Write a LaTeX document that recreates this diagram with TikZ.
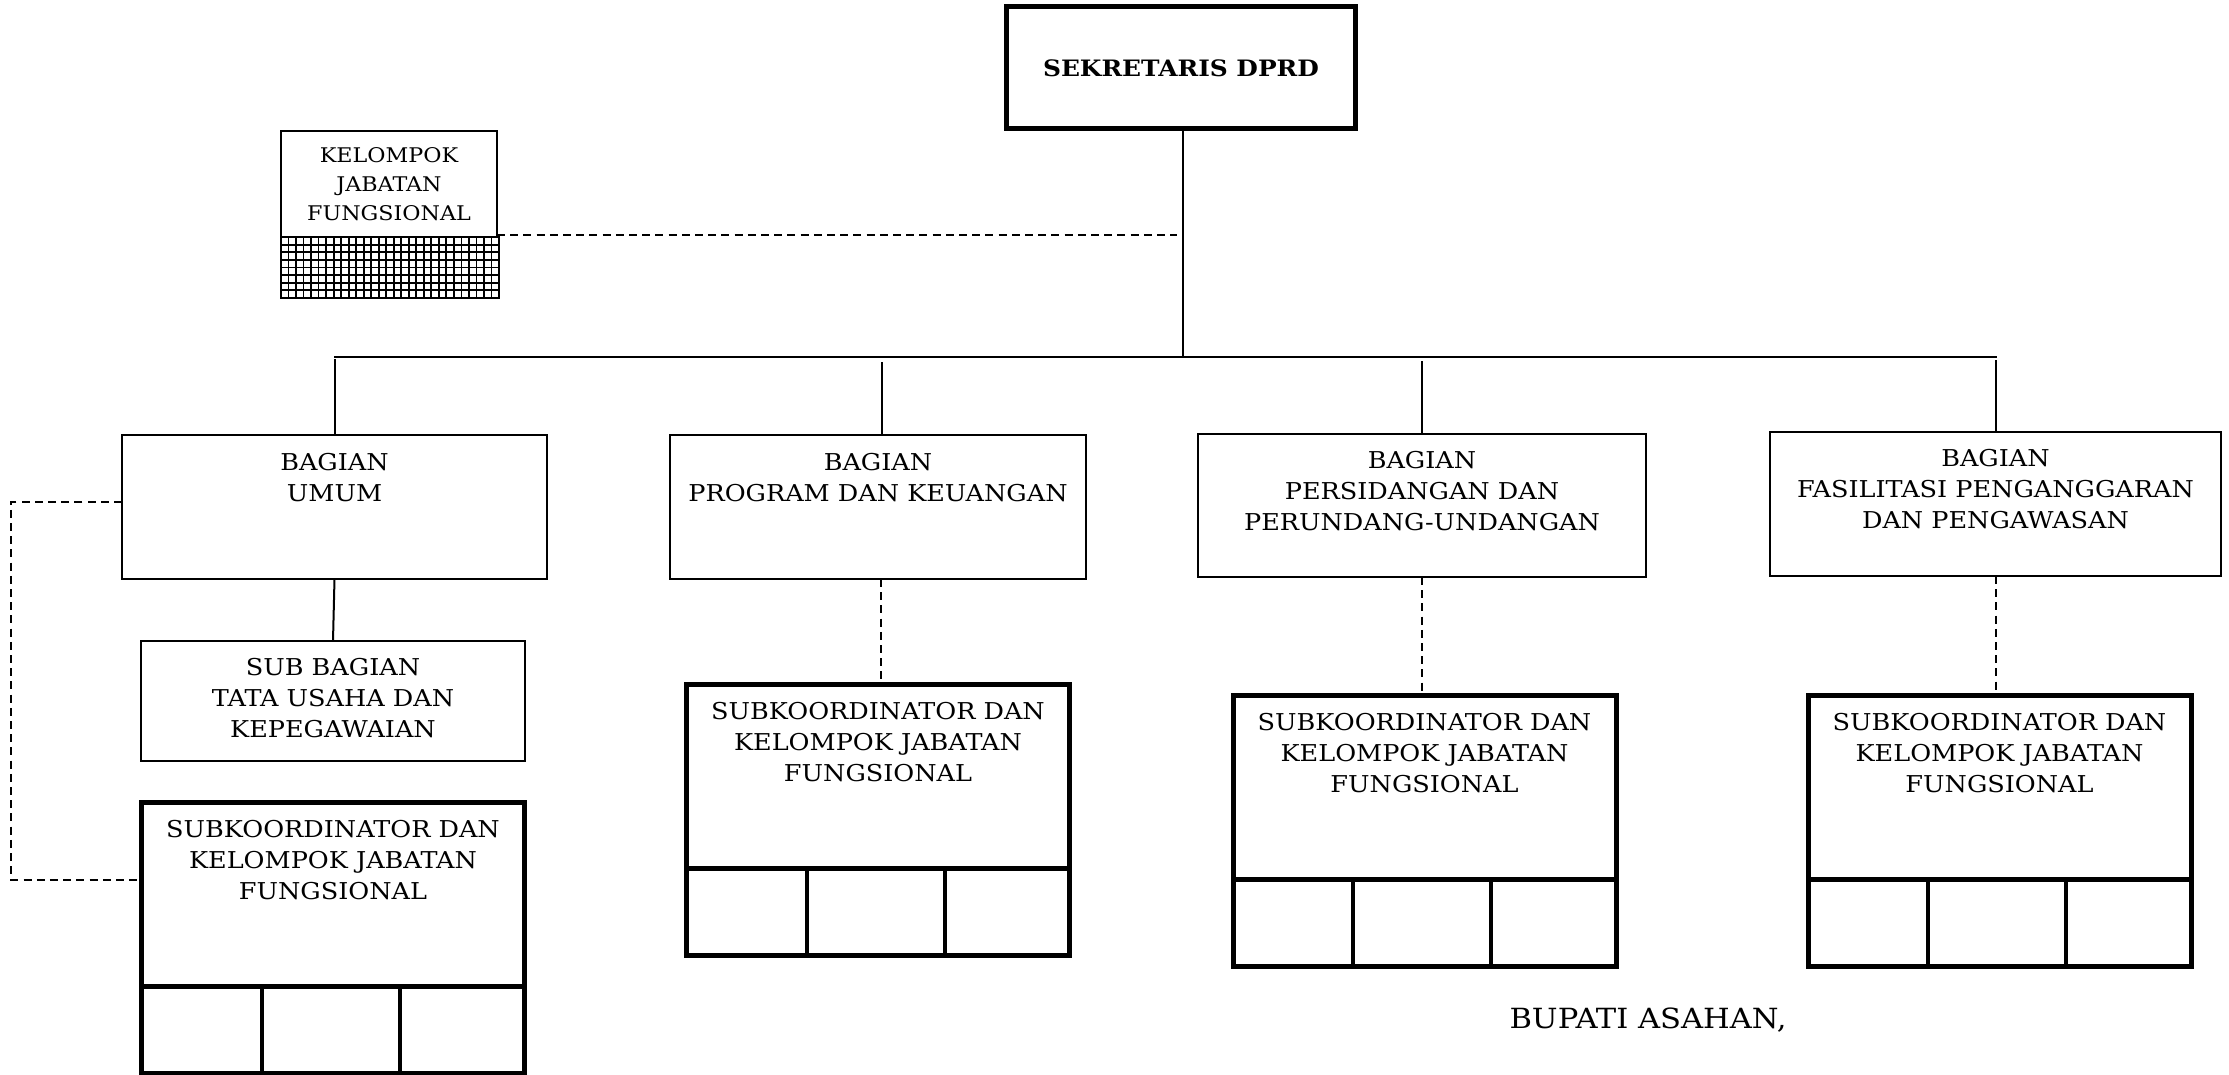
\documentclass[tikz,border=0pt]{standalone}
\usepackage{fontspec}
\setmainfont{DejaVu Serif}[FakeStretch=1.1]
\usetikzlibrary{calc}
\tikzset{
  boxsz/.style 2 args={minimum width=#1*0.5pt, minimum height=#2*0.5pt},
  thinbox/.style={draw, line width=1pt, inner sep=0pt, outer sep=0pt, fill=white},
  thickbox/.style={draw, line width=2.5pt, inner sep=0pt, outer sep=0pt, fill=white},
  lbl/.style={inner sep=0pt, align=center, anchor=north, font=\fontsize{11.6}{15.5}\selectfont},
  conn/.style={line width=1pt},
  dconn/.style={line width=1pt, dash pattern=on 4pt off 2.6pt},
  divline/.style={line width=2.5pt},
  cellline/.style={line width=2pt},
  gridline/.style={line width=0.9pt}
}
\newcommand\skbox[3]{%
  \node[thickbox, boxsz={383}{271}] (#1) at (#2,#3) {};
  \coordinate (#1d) at ($(#1.north west)+(0,184)$);
  \coordinate (#1a) at ($(#1d)+(120,0)$);
  \coordinate (#1b) at ($(#1d)+(258,0)$);
  \draw[divline] (#1d) -- (#1d -| #1.east);
  \draw[cellline] (#1a) -- (#1a |- #1.south);
  \draw[cellline] (#1b) -- (#1b |- #1.south);
  \node[lbl] (#1t) at ($(#1.north)+(0,17.5)$) {SUBKOORDINATOR DAN\\KELOMPOK JABATAN\\FUNGSIONAL};
}
\begin{document}
\begin{tikzpicture}[x=0.5pt,y=-0.5pt]
\useasboundingbox[fill=white] (0,0) rectangle (2229,1075);

% top
\node[thickbox, boxsz={349}{122}, font=\fontsize{11.3}{15.5}\selectfont\bfseries] (sek) at (1181,68) {SEKRETARIS DPRD};

% kelompok jabatan fungsional
\fill[white] (281,237) rectangle (499,298);
\foreach \i in {0,...,29} \draw[gridline] ({281+\i*7.517},237) -- ({281+\i*7.517},298);
\foreach \j in {0,...,8} \draw[gridline] (281,{237+\j*7.625}) -- (499,{237+\j*7.625});
\draw[line width=1.3pt] (281,237) rectangle (499,298);
\node[thinbox, boxsz={216}{106}] (kjf) at (389,184) {};
\node[lbl, font=\fontsize{10.1}{14.5}\selectfont] (kjft) at ($(kjf.north)+(0,16)$) {KELOMPOK\\JABATAN\\FUNGSIONAL};

% bagian boxes
\node[thinbox, boxsz={425}{144}] (umum) at (334.5,507) {};
\node[lbl] (umumt) at ($(umum.north)+(0,17.5)$) {BAGIAN\\UMUM};
\node[thinbox, boxsz={416}{144}] (prog) at (878,507) {};
\node[lbl] (progt) at ($(prog.north)+(0,17.5)$) {BAGIAN\\PROGRAM DAN KEUANGAN};
\node[thinbox, boxsz={448}{143}] (pers) at (1422,505.5) {};
\node[lbl] (perst) at ($(pers.north)+(0,16.5)$) {BAGIAN\\PERSIDANGAN DAN\\PERUNDANG-UNDANGAN};
\node[thinbox, boxsz={451}{144}] (fas) at (1995.5,504) {};
\node[lbl] (fast) at ($(fas.north)+(0,16.5)$) {BAGIAN\\FASILITASI PENGANGGARAN\\DAN PENGAWASAN};

% sub bagian
\node[thinbox, boxsz={384}{120}] (subbag) at (333,701) {};
\node[lbl] (subbagt) at ($(subbag.north)+(0,17)$) {SUB BAGIAN\\TATA USAHA DAN\\KEPEGAWAIAN};

% subkoordinator boxes
\skbox{skA}{333}{937.5}
\skbox{skB}{878}{819.5}
\skbox{skC}{1424.5}{831}
\skbox{skD}{1999.5}{831}

% bupati
\node[inner sep=0pt, anchor=base, font=\fontsize{13.9}{16}\selectfont] (bup) at (1648,1028) {BUPATI ASAHAN,};

% connectors
\coordinate (hc) at (1183,357);
\coordinate (hl) at (334,357);
\coordinate (hr) at (1997,357);
\draw[conn] (hc |- sek.south) -- (hc);
\draw[conn] (hl) -- (hr);
\draw[conn] (umum.north) -- ($(umum.north |- hl)+(0,2)$);
\draw[conn] ($(prog.north)+(4,0)$) -- ($(prog.north |- hl)+(4,5)$);
\draw[conn] (pers.north) -- ($(pers.north |- hl)+(0,4)$);
\draw[conn] (fas.north) -- ($(fas.north |- hl)+(0,3)$);

\coordinate (dj) at (1177,235);
\draw[dconn] (dj -| kjf.east) -- (dj);

\draw[conn] (umum.south) -- (subbag.north);
\draw[dconn] ($(prog.south)+(3,0)$) -- ($(skB.north)+(3,0)$);
\draw[dconn] (pers.south) -- (pers.south |- skC.north);
\draw[dconn] (fas.south) -- (fas.south |- skD.north);

\coordinate (lu) at ($(umum.west)+(0,-5)$);
\coordinate (ls) at ($(skA.north west)+(0,78)$);
\coordinate (lx) at (11,0);
\draw[dconn] (lu) -- (lu -| lx) -- (ls -| lx) -- (ls);
\end{tikzpicture}
\end{document}
